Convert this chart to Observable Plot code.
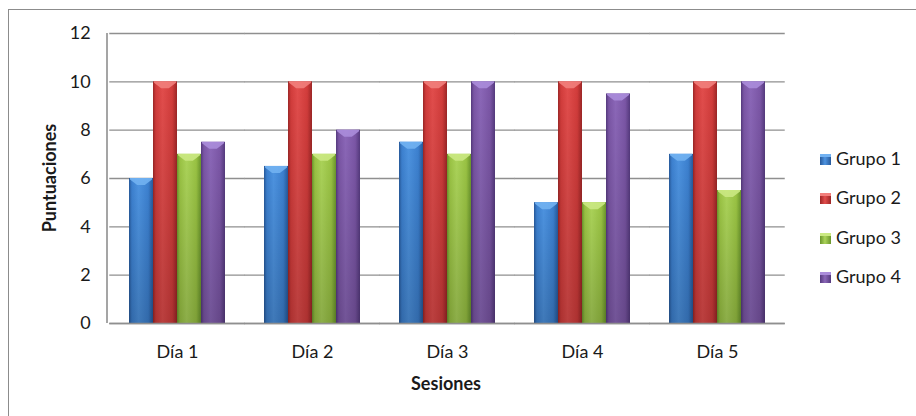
<!DOCTYPE html>
<html><head><meta charset="utf-8">
<script src="https://cdn.jsdelivr.net/npm/d3@7"></script>
<script src="https://cdn.jsdelivr.net/npm/@observablehq/plot@0.6"></script>
<style>
body{margin:0;background:#fff;}
#wrap{position:relative;width:916px;height:416px;overflow:hidden;font-family:Lato,sans-serif;color:#1a1a1a;}
#border{position:absolute;left:8px;top:9px;width:960px;height:460px;border:1.5px solid #8c8c8c;box-sizing:border-box;}
#chart{position:absolute;left:0;top:0;}
.axt{position:absolute;font-weight:bold;font-size:18px;white-space:nowrap;}
#ylabel{left:49px;top:178px;transform:translate(-50%,-50%) rotate(-90deg);}
#xlabel{left:446px;top:383px;transform:translate(-50%,-50%);}
.li{position:absolute;left:820px;font-size:18px;white-space:nowrap;line-height:20px;}
.li span.sw{display:inline-block;width:11px;height:11px;margin-right:5px;vertical-align:0px;}
</style></head><body>
<div id="wrap">
<div id="border"></div>
<div id="chart"></div>
<div id="ylabel" class="axt">Puntuaciones</div>
<div id="xlabel" class="axt">Sesiones</div>
<div id="legend"></div>
</div>
<script>
const days = ["Día 1", "Día 2", "Día 3", "Día 4", "Día 5"];
const groups = ["Grupo 1", "Grupo 2", "Grupo 3", "Grupo 4"];
const grupo1 = [6, 6.5, 7.5, 5, 7];
const grupo2 = [10, 10, 10, 10, 10];
const grupo3 = [7, 7, 7, 5, 5.5];
const grupo4 = [7.5, 8, 10, 9.5, 10];
const yTicks = [0, 2, 4, 6, 8, 10, 12];
const baseColors = ["#3c80cf", "#d23c3b", "#99c243", "#7b56a6"];
const edgeColors = ["#27599a", "#9c2626", "#6a952c", "#553a7e"];
const lightColors = ["#4d93e0", "#e24d4c", "#abd359", "#8b67b8"];
const capColors = ["#72b2f2", "#f27f7c", "#cbe983", "#ab8ddb"];

const series = [grupo1, grupo2, grupo3, grupo4];
const rows = days.flatMap((d, i) => groups.map((g, j) => ({day: d, group: g, value: series[j][i]})));

const W = 916, H = 416, mL = 107, mR = 130, mT = 33, mB = 93;
const pi = 0.276, po = 0.138;
const step = (W - mL - mR) / (days.length - pi + 2 * po);
const gap = pi * step, outer = po * step;

const plot = Plot.plot({
  width: W, height: H,
  marginLeft: mL, marginRight: mR, marginTop: mT, marginBottom: mB,
  style: {fontFamily: "Lato, sans-serif", fontSize: "18px", color: "#1a1a1a", background: "transparent", overflow: "visible"},
  fx: {domain: days, paddingInner: pi, paddingOuter: po, axis: "bottom", tickSize: 0, tickPadding: 22, label: null},
  x: {domain: groups, padding: 0, axis: null},
  y: {domain: [0, 12], ticks: yTicks, tickSize: 0, tickPadding: 19 + outer, label: null},
  color: {domain: groups, range: groups.map((g, i) => `url(#bar${i})`)},
  marks: [
    Plot.ruleY(yTicks, {stroke: "#8f8f8f", strokeWidth: 1.4, insetLeft: -gap / 2, insetRight: -gap / 2}),
    Plot.barY(rows, {fx: "day", x: "group", y: "value", fill: "group"}),
    Plot.barY(rows, {fx: "day", x: "group", y: "value", fill: "url(#shade)"}),
    Plot.ruleY([0], {stroke: "#8f8f8f", strokeWidth: 1.6, insetLeft: -gap / 2, insetRight: -gap / 2})
  ]
});

const svg = d3.select(plot);
const defs = svg.insert("defs", ":first-child");
baseColors.forEach((c, i) => {
  const g = defs.append("linearGradient").attr("id", `bar${i}`).attr("x1", 0).attr("x2", 1).attr("y1", 0).attr("y2", 0);
  [[0, edgeColors[i]], [0.12, baseColors[i]], [0.4, lightColors[i]], [0.8, baseColors[i]], [1, edgeColors[i]]]
    .forEach(([o, col]) => g.append("stop").attr("offset", o).attr("stop-color", col));
});
const sh = defs.append("linearGradient").attr("id", "shade").attr("x1", 0).attr("x2", 0).attr("y1", 0).attr("y2", 1);
sh.append("stop").attr("offset", 0).attr("stop-color", "#000").attr("stop-opacity", 0);
sh.append("stop").attr("offset", 1).attr("stop-color", "#000").attr("stop-opacity", 0.18);

// bevel cap on top of each rendered bar
svg.selectAll("rect").each(function() {
  const f = this.getAttribute("fill") || "";
  const m = f.match(/url\(#bar(\d)\)/);
  if (!m) return;
  const i = +m[1];
  const x = +this.getAttribute("x"), y = +this.getAttribute("y"), w = +this.getAttribute("width");
  const p = document.createElementNS("http://www.w3.org/2000/svg", "path");
  p.setAttribute("d", `M${x + 1},${y}H${x + w - 1}V${y + 1.5}L${x + w * 0.66},${y + 7}H${x + w * 0.34}L${x + 1},${y + 1.5}Z`);
  p.setAttribute("fill", capColors[i]);
  p.setAttribute("opacity", 0.9);
  this.parentNode.appendChild(p);
});

const ys = plot.scale("y");
svg.append("line").attr("x1", mL).attr("x2", mL).attr("y1", ys.apply(12)).attr("y2", ys.apply(0))
  .attr("stroke", "#8f8f8f").attr("stroke-width", 1.6);

document.getElementById("chart").appendChild(plot);

const legendTops = [158, 197, 237, 276];
const lg = document.getElementById("legend");
groups.forEach((g, i) => {
  const d = document.createElement("div");
  d.className = "li";
  d.style.top = (legendTops[i] - 10) + "px";
  d.innerHTML = `<span class="sw" style="background:linear-gradient(180deg, ${capColors[i]} 0 25%, transparent 25%), linear-gradient(90deg, ${edgeColors[i]}, ${lightColors[i]} 45%, ${edgeColors[i]})"></span>${g}`;
  lg.appendChild(d);
});
</script>
</body></html>
